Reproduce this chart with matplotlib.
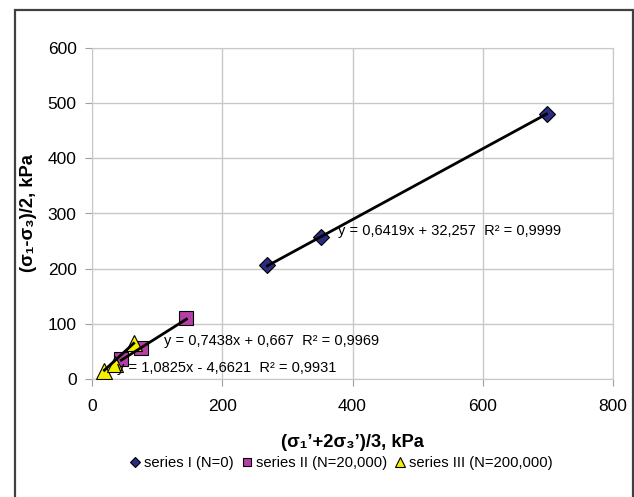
import matplotlib
matplotlib.use("Agg")
import matplotlib.pyplot as plt
from matplotlib.patches import Rectangle
import numpy as np

plt.rcParams['font.family'] = ['Liberation Sans', 'DejaVu Sans']

# series data
x1 = [269, 352, 698]
y1 = [206, 257, 480]
x2 = [45, 76, 145]
y2 = [36, 56, 111]
x3 = [19, 35, 64]
y3 = [15, 27, 66]

labels = ["series I (N=0)", "series II (N=20,000)", "series III (N=200,000)"]
slopes = [0.6419, 0.7438, 1.0825]
intercepts = [32.257, 0.667, -4.6621]
eq_texts = ["y = 0,6419x + 32,257  R² = 0,9999",
            "y = 0,7438x + 0,667  R² = 0,9969",
            "y = 1,0825x - 4,6621  R² = 0,9931"]
eq_pos = [(377, 269), (110, 68), (38, 20)]

fig = plt.figure(figsize=(6.34, 4.97), dpi=100)
ax = fig.add_axes([92/634, 1-379/497, 521/634, 331/497])

fig.patches.append(Rectangle((14.5/634, -0.1), (632.5-14.5)/634, 1.1-10/497,
                             transform=fig.transFigure, fill=False,
                             edgecolor='#404040', linewidth=1.6))

ax.plot(x1, y1, 'D', ms=8.5, color='#2B2B80', mec='black', mew=0.8, label=labels[0], zorder=3)
ax.plot(x2, y2, 's', ms=10, color='#B53FA6', mec='black', mew=0.8, label=labels[1], zorder=3)
ax.plot(x3, y3, '^', ms=11, color='#F5F000', mec='black', mew=0.8, label=labels[2], zorder=3)

for xs, a, b in zip([x1, x2, x3], slopes, intercepts):
    xx = np.array([min(xs), max(xs)])
    ax.plot(xx, a*xx + b, color='black', lw=2, zorder=4)

for t, (px, py) in zip(eq_texts, eq_pos):
    ax.text(px, py, t, fontsize=10.5, va='center', ha='left', zorder=5)

ax.set_xlim(0, 800)
ax.set_ylim(0, 600)
ax.set_xticks([0, 200, 400, 600, 800])
ax.set_yticks([0, 100, 200, 300, 400, 500, 600])
ax.grid(True, color='#C8C8C8', lw=1)
ax.set_axisbelow(True)
for s in ax.spines.values():
    s.set_color('#C8C8C8')
ax.tick_params(direction='out', length=5, color='#A0A0A0', labelsize=12.5, pad=6)
ax.tick_params(axis='x', pad=9.5)

ax.set_xlabel("(σ₁’+2σ₃’)/3, kPa", fontsize=13.2, fontweight='bold', labelpad=14)
ax.set_ylabel("(σ₁-σ₃)/2, kPa", fontsize=13.2, fontweight='bold', labelpad=8)

leg = fig.legend(loc='center', bbox_to_anchor=(340/634, 1-463/497), ncol=3, frameon=False,
                 fontsize=10.6, handletextpad=0.1, columnspacing=0.4, markerscale=0.6,
                 handlelength=1.0)

fig.savefig("out.png", dpi=100)
